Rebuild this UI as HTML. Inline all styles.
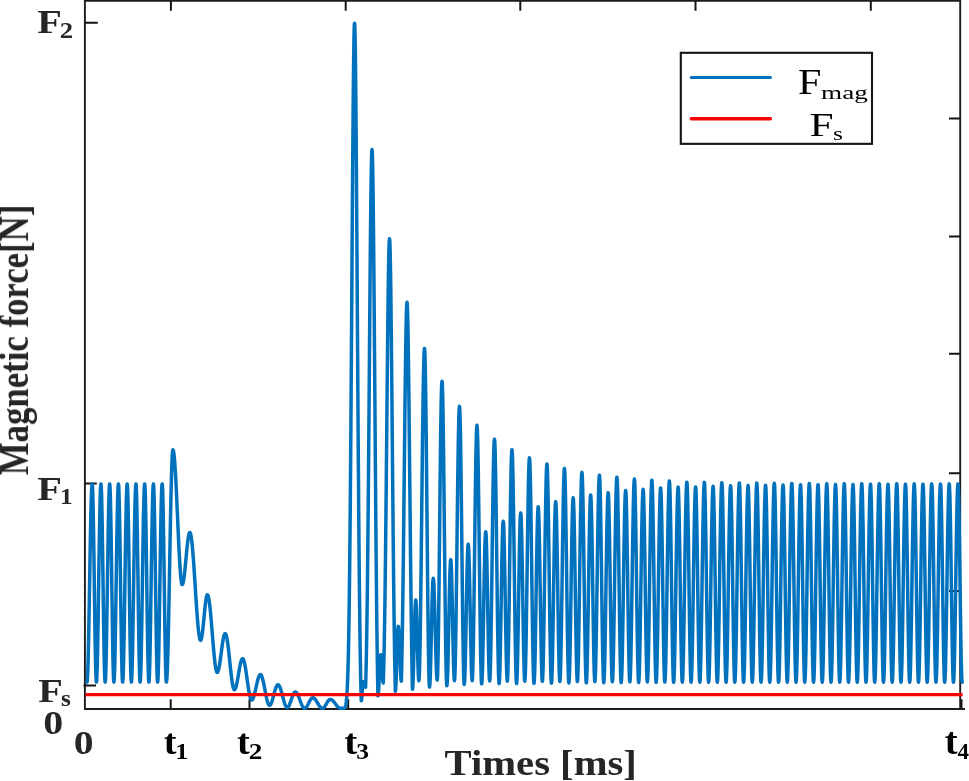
<!DOCTYPE html>
<html><head><meta charset="utf-8"><style>
html,body{margin:0;padding:0;background:#fff;}
body{width:969px;height:781px;overflow:hidden;}
svg{display:block;font-family:"Liberation Serif",serif;}
text{-webkit-font-smoothing:antialiased;}
</style></head><body>
<svg width="969" height="781" viewBox="0 0 969 781">
<rect x="0" y="0" width="969" height="781" fill="#fff"/>
<g stroke="#1c1c1c" stroke-width="1.9" fill="none" stroke-linecap="butt">
<path d="M84.9,0.9 H961 M84.9,0 V709.9 M84,709.0 H965 M960.2,0 V709.9"/>
</g>
<g stroke="#151515" stroke-width="2" fill="none">
<path d="M85,22.7 H97.8 M85,483.4 H96.8 M83.5,685.4 H96"/>
<path d="M960,118.6 H949 M960,236.6 H949 M960,353.7 H949 M960,473.3 H949 M960,591.1 H949"/>
<path d="M170.9,1 V10.8 M345.7,1 V10.8 M520.3,1 V10.8 M695.5,1 V10.8 M870.8,1 V10.8"/>
<path d="M170.7,708 V699.3 M249.5,708 V699.3 M348.2,708 V699.3 M961.5,708 V699.3"/>
</g>
<polyline points="87.00,682.10 87.20,681.38 87.40,679.22 87.60,675.66 87.80,670.75 88.00,664.57 88.20,657.19 88.40,648.73 88.60,639.32 88.80,629.08 89.00,618.17 89.20,606.75 89.40,594.99 89.60,583.05 89.80,571.11 90.00,559.35 90.20,547.93 90.40,537.02 90.60,526.78 90.80,517.37 91.00,508.91 91.20,501.53 91.40,495.35 91.60,490.44 91.80,486.88 92.00,484.72 92.20,484.00 92.40,485.11 92.60,488.40 92.80,493.81 93.00,501.21 93.20,510.44 93.40,521.29 93.60,533.52 93.80,546.86 94.00,561.01 94.20,575.65 94.40,590.45 94.60,605.09 94.80,619.24 95.00,632.58 95.20,644.81 95.40,655.66 95.60,664.89 95.80,672.29 96.00,677.70 96.20,680.99 96.40,682.10 96.61,681.09 96.81,678.09 97.02,673.15 97.23,666.38 97.43,657.91 97.64,647.91 97.85,636.60 98.05,624.20 98.26,610.96 98.47,597.15 98.67,583.05 98.88,568.95 99.09,555.14 99.29,541.90 99.50,529.50 99.71,518.19 99.91,508.19 100.12,499.72 100.33,492.95 100.53,488.01 100.74,485.01 100.95,484.00 101.15,485.11 101.35,488.40 101.55,493.81 101.75,501.21 101.95,510.44 102.15,521.29 102.35,533.52 102.55,546.86 102.75,561.01 102.95,575.65 103.15,590.45 103.35,605.09 103.55,619.24 103.75,632.58 103.95,644.81 104.15,655.66 104.35,664.89 104.55,672.29 104.75,677.70 104.95,680.99 105.15,682.10 105.35,681.09 105.56,678.09 105.76,673.15 105.97,666.38 106.18,657.91 106.38,647.91 106.59,636.60 106.80,624.20 107.00,610.96 107.21,597.15 107.42,583.05 107.62,568.95 107.83,555.14 108.04,541.90 108.24,529.50 108.45,518.19 108.66,508.19 108.86,499.72 109.07,492.95 109.28,488.01 109.48,485.01 109.69,484.00 109.89,485.11 110.09,488.40 110.29,493.81 110.49,501.21 110.69,510.44 110.89,521.29 111.09,533.52 111.29,546.86 111.49,561.01 111.69,575.65 111.89,590.45 112.09,605.09 112.29,619.24 112.49,632.58 112.69,644.81 112.89,655.66 113.09,664.89 113.29,672.29 113.49,677.70 113.69,680.99 113.89,682.10 114.10,681.09 114.30,678.09 114.51,673.15 114.72,666.38 114.92,657.91 115.13,647.91 115.34,636.60 115.54,624.20 115.75,610.96 115.96,597.15 116.16,583.05 116.37,568.95 116.58,555.14 116.78,541.90 116.99,529.50 117.20,518.19 117.40,508.19 117.61,499.72 117.82,492.95 118.02,488.01 118.23,485.01 118.44,484.00 118.64,485.11 118.84,488.40 119.03,493.81 119.23,501.21 119.44,510.44 119.64,521.29 119.84,533.52 120.03,546.86 120.23,561.01 120.44,575.65 120.64,590.45 120.84,605.09 121.04,619.24 121.23,632.58 121.44,644.81 121.64,655.66 121.84,664.89 122.04,672.29 122.23,677.70 122.44,680.99 122.64,682.10 122.84,681.09 123.05,678.09 123.25,673.15 123.46,666.38 123.67,657.91 123.87,647.91 124.08,636.60 124.29,624.20 124.49,610.96 124.70,597.15 124.91,583.05 125.11,568.95 125.32,555.14 125.53,541.90 125.73,529.50 125.94,518.19 126.15,508.19 126.35,499.72 126.56,492.95 126.77,488.01 126.97,485.01 127.18,484.00 127.39,485.22 127.60,488.85 127.81,494.80 128.02,502.92 128.23,513.01 128.44,524.83 128.65,538.08 128.86,552.44 129.07,567.56 129.28,583.05 129.49,598.54 129.70,613.66 129.91,628.02 130.12,641.27 130.33,653.09 130.54,663.18 130.75,671.30 130.96,677.25 131.17,680.88 131.38,682.10 131.59,681.09 131.79,678.09 132.00,673.15 132.21,666.38 132.41,657.91 132.62,647.91 132.83,636.60 133.03,624.20 133.24,610.96 133.45,597.15 133.65,583.05 133.86,568.95 134.07,555.14 134.27,541.90 134.48,529.50 134.69,518.19 134.89,508.19 135.10,499.72 135.31,492.95 135.51,488.01 135.72,485.01 135.93,484.00 136.14,485.22 136.34,488.85 136.56,494.80 136.77,502.92 136.98,513.01 137.19,524.83 137.40,538.08 137.61,552.44 137.81,567.56 138.03,583.05 138.24,598.54 138.44,613.66 138.66,628.02 138.87,641.27 139.07,653.09 139.28,663.18 139.50,671.30 139.71,677.25 139.91,680.88 140.12,682.10 140.33,681.09 140.54,678.09 140.74,673.15 140.95,666.38 141.16,657.91 141.36,647.91 141.57,636.60 141.78,624.20 141.98,610.96 142.19,597.15 142.40,583.05 142.60,568.95 142.81,555.14 143.02,541.90 143.22,529.50 143.43,518.19 143.64,508.19 143.84,499.72 144.05,492.95 144.26,488.01 144.46,485.01 144.67,484.00 144.88,485.22 145.09,488.85 145.30,494.80 145.51,502.92 145.72,513.01 145.93,524.83 146.14,538.08 146.35,552.44 146.56,567.56 146.77,583.05 146.98,598.54 147.19,613.66 147.40,628.02 147.61,641.27 147.82,653.09 148.03,663.18 148.24,671.30 148.45,677.25 148.66,680.88 148.87,682.10 149.08,681.09 149.28,678.09 149.49,673.15 149.70,666.38 149.90,657.91 150.11,647.91 150.32,636.60 150.52,624.20 150.73,610.96 150.94,597.15 151.14,583.05 151.35,568.95 151.56,555.14 151.76,541.90 151.97,529.50 152.18,518.19 152.38,508.19 152.59,499.72 152.80,492.95 153.00,488.01 153.21,485.01 153.41,484.00 153.62,485.22 153.83,488.85 154.04,494.80 154.25,502.92 154.46,513.01 154.67,524.83 154.88,538.08 155.09,552.44 155.30,567.56 155.51,583.05 155.72,598.54 155.93,613.66 156.14,628.02 156.35,641.27 156.56,653.09 156.77,663.18 156.98,671.30 157.19,677.25 157.40,680.88 157.61,682.10 157.82,681.09 158.03,678.09 158.23,673.15 158.44,666.38 158.65,657.91 158.85,647.91 159.06,636.60 159.27,624.20 159.47,610.96 159.68,597.15 159.89,583.05 160.09,568.95 160.30,555.14 160.51,541.90 160.71,529.50 160.92,518.19 161.13,508.19 161.33,499.72 161.54,492.95 161.75,488.01 161.95,485.01 162.16,484.00 162.37,485.22 162.58,488.85 162.79,494.80 163.00,502.92 163.21,513.01 163.42,524.83 163.63,538.08 163.84,552.44 164.05,567.56 164.26,583.05 164.47,598.54 164.68,613.66 164.89,628.02 165.10,641.27 165.31,653.09 165.52,663.18 165.73,671.30 165.94,677.25 166.15,680.88 166.36,682.10 166.56,681.54 166.77,679.87 166.97,677.10 167.18,673.26 167.38,668.39 167.59,662.53 167.79,655.75 168.00,648.10 168.20,639.65 168.40,630.50 168.61,620.73 168.81,610.43 169.02,599.70 169.22,588.65 169.43,577.38 169.63,566.00 169.83,554.62 170.04,543.35 170.24,532.30 170.45,521.57 170.65,511.27 170.86,501.50 171.06,492.35 171.26,483.90 171.47,476.25 171.67,469.47 171.88,463.61 172.08,458.74 172.29,454.90 172.49,452.13 172.70,450.46 172.90,449.90 173.10,450.06 173.30,450.53 173.51,451.31 173.71,452.40 173.91,453.79 174.11,455.48 174.32,457.45 174.52,459.70 174.72,462.23 174.92,465.01 175.12,468.03 175.33,471.28 175.53,474.75 175.73,478.41 175.93,482.26 176.13,486.26 176.34,490.42 176.54,494.70 176.74,499.08 176.94,503.55 177.15,508.08 177.35,512.65 177.55,517.25 177.75,521.85 177.95,526.42 178.16,530.95 178.36,535.42 178.56,539.80 178.76,544.08 178.97,548.24 179.17,552.24 179.37,556.09 179.57,559.75 179.77,563.22 179.98,566.47 180.18,569.49 180.38,572.27 180.58,574.80 180.78,577.05 180.99,579.02 181.19,580.71 181.39,582.10 181.59,583.19 181.80,583.97 182.00,584.44 182.20,584.60 182.40,584.51 182.60,584.24 182.80,583.80 183.00,583.19 183.20,582.41 183.40,581.46 183.60,580.36 183.80,579.11 184.00,577.72 184.20,576.19 184.40,574.55 184.60,572.80 184.80,570.95 185.00,569.01 185.20,567.01 185.40,564.94 185.60,562.84 185.80,560.70 186.00,558.55 186.20,556.40 186.40,554.26 186.60,552.16 186.80,550.09 187.00,548.09 187.20,546.15 187.40,544.30 187.60,542.55 187.80,540.91 188.00,539.38 188.20,537.99 188.40,536.74 188.60,535.64 188.80,534.69 189.00,533.91 189.20,533.30 189.40,532.86 189.60,532.59 189.80,532.50 190.00,532.59 190.21,532.88 190.41,533.35 190.62,534.01 190.82,534.85 191.02,535.88 191.23,537.08 191.43,538.45 191.63,540.00 191.84,541.70 192.04,543.57 192.25,545.58 192.45,547.74 192.65,550.03 192.86,552.46 193.06,555.00 193.26,557.65 193.47,560.40 193.67,563.25 193.88,566.17 194.08,569.17 194.28,572.23 194.49,575.34 194.69,578.48 194.89,581.66 195.10,584.85 195.30,588.05 195.51,591.24 195.71,594.42 195.91,597.56 196.12,600.67 196.32,603.73 196.52,606.73 196.73,609.65 196.93,612.50 197.14,615.25 197.34,617.90 197.54,620.44 197.75,622.87 197.95,625.16 198.15,627.32 198.36,629.33 198.56,631.20 198.77,632.90 198.97,634.45 199.17,635.82 199.38,637.02 199.58,638.05 199.78,638.89 199.99,639.55 200.19,640.02 200.40,640.31 200.60,640.40 200.80,640.30 201.00,640.01 201.20,639.53 201.40,638.86 201.60,638.01 201.80,636.98 202.00,635.79 202.20,634.45 202.40,632.96 202.60,631.34 202.80,629.60 203.00,627.76 203.20,625.84 203.40,623.84 203.60,621.79 203.80,619.70 204.00,617.60 204.20,615.50 204.40,613.41 204.60,611.36 204.80,609.36 205.00,607.44 205.20,605.60 205.40,603.86 205.60,602.24 205.80,600.75 206.00,599.41 206.20,598.22 206.40,597.19 206.60,596.34 206.80,595.67 207.00,595.19 207.20,594.90 207.40,594.80 207.60,594.88 207.81,595.13 208.01,595.55 208.22,596.12 208.42,596.86 208.62,597.75 208.83,598.80 209.03,600.00 209.24,601.34 209.44,602.82 209.65,604.43 209.85,606.16 210.05,608.02 210.26,609.98 210.46,612.04 210.67,614.20 210.87,616.44 211.07,618.75 211.28,621.13 211.48,623.56 211.69,626.03 211.89,628.54 212.10,631.06 212.30,633.60 212.50,636.14 212.71,638.66 212.91,641.17 213.12,643.64 213.32,646.07 213.53,648.45 213.73,650.76 213.93,653.00 214.14,655.16 214.34,657.22 214.55,659.18 214.75,661.04 214.95,662.77 215.16,664.38 215.36,665.86 215.57,667.20 215.77,668.40 215.97,669.45 216.18,670.34 216.38,671.08 216.59,671.65 216.79,672.07 217.00,672.32 217.20,672.40 217.40,672.34 217.60,672.16 217.80,671.86 218.00,671.45 218.20,670.92 218.40,670.29 218.60,669.54 218.80,668.69 219.00,667.75 219.20,666.72 219.40,665.60 219.60,664.40 219.80,663.14 220.00,661.81 220.20,660.42 220.40,658.99 220.60,657.53 220.80,656.03 221.00,654.52 221.20,653.00 221.40,651.48 221.60,649.97 221.80,648.47 222.00,647.01 222.20,645.58 222.40,644.19 222.60,642.86 222.80,641.60 223.00,640.40 223.20,639.28 223.40,638.25 223.60,637.31 223.80,636.46 224.00,635.71 224.20,635.08 224.40,634.55 224.60,634.14 224.80,633.84 225.00,633.66 225.20,633.60 225.40,633.67 225.60,633.86 225.80,634.19 226.00,634.64 226.20,635.22 226.40,635.92 226.60,636.74 226.80,637.68 227.00,638.73 227.20,639.89 227.40,641.15 227.60,642.50 227.80,643.95 228.00,645.47 228.20,647.08 228.40,648.75 228.60,650.47 228.80,652.26 229.00,654.08 229.20,655.94 229.40,657.83 229.60,659.74 229.80,661.65 230.00,663.56 230.20,665.47 230.40,667.36 230.60,669.22 230.80,671.04 231.00,672.83 231.20,674.55 231.40,676.22 231.60,677.83 231.80,679.35 232.00,680.80 232.20,682.15 232.40,683.41 232.60,684.57 232.80,685.62 233.00,686.56 233.20,687.38 233.40,688.08 233.60,688.66 233.80,689.11 234.00,689.44 234.20,689.63 234.40,689.70 234.61,689.65 234.81,689.51 235.02,689.27 235.22,688.94 235.43,688.52 235.63,688.01 235.84,687.42 236.04,686.74 236.25,685.99 236.45,685.16 236.66,684.27 236.86,683.31 237.06,682.30 237.27,681.24 237.47,680.13 237.68,678.99 237.88,677.82 238.09,676.62 238.29,675.42 238.50,674.20 238.71,672.98 238.91,671.78 239.12,670.58 239.32,669.41 239.53,668.27 239.73,667.16 239.94,666.10 240.14,665.09 240.34,664.13 240.55,663.24 240.75,662.41 240.96,661.66 241.16,660.98 241.37,660.39 241.57,659.88 241.78,659.46 241.98,659.13 242.19,658.89 242.39,658.75 242.60,658.70 242.80,658.75 243.00,658.90 243.21,659.15 243.41,659.50 243.61,659.95 243.81,660.49 244.02,661.12 244.22,661.85 244.42,662.65 244.62,663.54 244.82,664.51 245.03,665.55 245.23,666.66 245.43,667.82 245.63,669.05 245.84,670.33 246.04,671.65 246.24,673.00 246.44,674.39 246.64,675.81 246.85,677.24 247.05,678.68 247.25,680.12 247.45,681.56 247.66,682.99 247.86,684.41 248.06,685.80 248.26,687.15 248.46,688.47 248.67,689.75 248.87,690.98 249.07,692.14 249.27,693.25 249.48,694.29 249.68,695.26 249.88,696.15 250.08,696.95 250.28,697.68 250.49,698.31 250.69,698.85 250.89,699.30 251.09,699.65 251.30,699.90 251.50,700.05 251.70,700.10 251.90,700.07 252.10,699.96 252.31,699.79 252.51,699.56 252.71,699.26 252.91,698.89 253.12,698.47 253.32,697.98 253.52,697.44 253.72,696.85 253.93,696.20 254.13,695.51 254.33,694.77 254.53,693.99 254.73,693.18 254.94,692.34 255.14,691.47 255.34,690.57 255.54,689.67 255.75,688.74 255.95,687.82 256.15,686.88 256.35,685.96 256.56,685.03 256.76,684.13 256.96,683.23 257.16,682.36 257.37,681.52 257.57,680.71 257.77,679.93 257.97,679.19 258.17,678.50 258.38,677.85 258.58,677.26 258.78,676.72 258.98,676.23 259.19,675.81 259.39,675.44 259.59,675.14 259.79,674.91 260.00,674.74 260.20,674.63 260.40,674.60 260.60,674.64 260.80,674.75 261.01,674.94 261.21,675.19 261.41,675.53 261.61,675.93 261.82,676.40 262.02,676.93 262.22,677.53 262.42,678.19 262.62,678.91 262.83,679.68 263.03,680.50 263.23,681.37 263.43,682.27 263.64,683.22 263.84,684.20 264.04,685.21 264.24,686.24 264.44,687.28 264.65,688.35 264.85,689.41 265.05,690.49 265.25,691.55 265.46,692.62 265.66,693.66 265.86,694.69 266.06,695.70 266.26,696.68 266.47,697.62 266.67,698.53 266.87,699.40 267.07,700.22 267.28,700.99 267.48,701.71 267.68,702.37 267.88,702.97 268.08,703.50 268.29,703.97 268.49,704.37 268.69,704.71 268.89,704.96 269.10,705.15 269.30,705.26 269.50,705.30 269.70,705.27 269.90,705.19 270.11,705.04 270.31,704.84 270.51,704.59 270.71,704.28 270.92,703.93 271.12,703.52 271.32,703.06 271.52,702.56 271.73,702.02 271.93,701.44 272.13,700.82 272.33,700.17 272.54,699.50 272.74,698.79 272.94,698.07 273.14,697.33 273.35,696.58 273.55,695.82 273.75,695.05 273.95,694.28 274.15,693.52 274.36,692.77 274.56,692.03 274.76,691.31 274.96,690.60 275.17,689.92 275.37,689.28 275.57,688.66 275.77,688.08 275.98,687.54 276.18,687.04 276.38,686.58 276.58,686.17 276.79,685.82 276.99,685.51 277.19,685.26 277.39,685.06 277.60,684.91 277.80,684.83 278.00,684.80 278.20,684.83 278.41,684.91 278.61,685.05 278.82,685.24 279.02,685.48 279.23,685.78 279.43,686.13 279.64,686.52 279.84,686.97 280.04,687.46 280.25,687.99 280.45,688.56 280.66,689.16 280.86,689.80 281.07,690.47 281.27,691.17 281.48,691.90 281.68,692.64 281.88,693.40 282.09,694.18 282.29,694.96 282.50,695.75 282.70,696.55 282.91,697.34 283.11,698.12 283.32,698.90 283.52,699.66 283.72,700.40 283.93,701.13 284.13,701.82 284.34,702.50 284.54,703.14 284.75,703.74 284.95,704.31 285.16,704.84 285.36,705.33 285.56,705.78 285.77,706.17 285.97,706.52 286.18,706.82 286.38,707.06 286.59,707.25 286.79,707.39 287.00,707.47 287.20,707.50 287.40,707.48 287.61,707.40 287.81,707.29 288.01,707.12 288.21,706.91 288.41,706.66 288.62,706.36 288.82,706.02 289.02,705.64 289.23,705.23 289.43,704.78 289.63,704.31 289.83,703.80 290.03,703.27 290.24,702.72 290.44,702.14 290.64,701.56 290.85,700.96 291.05,700.36 291.25,699.75 291.45,699.14 291.65,698.54 291.86,697.94 292.06,697.36 292.26,696.78 292.47,696.23 292.67,695.70 292.87,695.19 293.07,694.72 293.27,694.27 293.48,693.86 293.68,693.48 293.88,693.14 294.09,692.84 294.29,692.59 294.49,692.38 294.69,692.21 294.89,692.10 295.10,692.02 295.30,692.00 295.50,692.02 295.70,692.08 295.91,692.17 296.11,692.30 296.31,692.47 296.51,692.67 296.72,692.91 296.92,693.19 297.12,693.49 297.32,693.83 297.52,694.19 297.73,694.59 297.93,695.01 298.13,695.45 298.33,695.92 298.53,696.40 298.74,696.90 298.94,697.42 299.14,697.95 299.34,698.49 299.55,699.04 299.75,699.59 299.95,700.15 300.15,700.71 300.35,701.26 300.56,701.81 300.76,702.35 300.96,702.88 301.16,703.40 301.37,703.90 301.57,704.38 301.77,704.85 301.97,705.29 302.17,705.71 302.38,706.11 302.58,706.47 302.78,706.81 302.98,707.11 303.18,707.39 303.39,707.63 303.59,707.83 303.79,708.00 303.99,708.13 304.20,708.22 304.40,708.28 304.60,708.30 304.81,708.28 305.01,708.24 305.22,708.15 305.42,708.04 305.62,707.90 305.83,707.73 306.04,707.53 306.24,707.30 306.44,707.04 306.65,706.76 306.86,706.46 307.06,706.14 307.27,705.79 307.47,705.43 307.68,705.06 307.88,704.67 308.09,704.28 308.29,703.87 308.50,703.46 308.70,703.05 308.91,702.64 309.11,702.23 309.31,701.82 309.52,701.43 309.73,701.04 309.93,700.67 310.13,700.31 310.34,699.96 310.55,699.64 310.75,699.34 310.96,699.06 311.16,698.80 311.37,698.57 311.57,698.37 311.78,698.20 311.98,698.06 312.19,697.95 312.39,697.86 312.60,697.82 312.80,697.80 313.00,697.81 313.21,697.85 313.41,697.91 313.62,697.99 313.82,698.09 314.03,698.22 314.23,698.36 314.43,698.53 314.64,698.72 314.84,698.93 315.05,699.16 315.25,699.40 315.46,699.66 315.66,699.94 315.86,700.23 316.07,700.53 316.27,700.84 316.48,701.16 316.68,701.49 316.89,701.83 317.09,702.18 317.29,702.52 317.50,702.87 317.70,703.23 317.91,703.58 318.11,703.92 318.31,704.27 318.52,704.61 318.72,704.94 318.93,705.26 319.13,705.57 319.34,705.87 319.54,706.16 319.74,706.44 319.95,706.70 320.15,706.94 320.36,707.17 320.56,707.38 320.77,707.57 320.97,707.74 321.17,707.88 321.38,708.01 321.58,708.11 321.79,708.19 321.99,708.25 322.20,708.29 322.40,708.30 322.60,708.29 322.81,708.24 323.01,708.17 323.21,708.07 323.41,707.94 323.62,707.79 323.82,707.61 324.02,707.41 324.22,707.18 324.43,706.93 324.63,706.66 324.83,706.38 325.03,706.07 325.24,705.76 325.44,705.43 325.64,705.09 325.84,704.74 326.05,704.39 326.25,704.03 326.45,703.67 326.65,703.31 326.86,702.96 327.06,702.61 327.26,702.27 327.46,701.94 327.67,701.62 327.87,701.32 328.07,701.04 328.27,700.77 328.48,700.52 328.68,700.29 328.88,700.09 329.08,699.91 329.29,699.76 329.49,699.63 329.69,699.53 329.89,699.46 330.10,699.41 330.30,699.40 330.50,699.41 330.71,699.44 330.91,699.48 331.12,699.54 331.32,699.62 331.52,699.71 331.73,699.82 331.93,699.95 332.14,700.09 332.34,700.25 332.54,700.42 332.75,700.61 332.95,700.80 333.16,701.01 333.36,701.23 333.56,701.47 333.77,701.71 333.97,701.96 334.18,702.21 334.38,702.47 334.58,702.74 334.79,703.02 334.99,703.29 335.20,703.57 335.40,703.85 335.60,704.13 335.81,704.41 336.01,704.68 336.22,704.96 336.42,705.23 336.62,705.49 336.83,705.74 337.03,705.99 337.24,706.23 337.44,706.47 337.64,706.69 337.85,706.90 338.05,707.09 338.26,707.28 338.46,707.45 338.66,707.61 338.87,707.75 339.07,707.88 339.28,707.99 339.48,708.08 339.68,708.16 339.89,708.22 340.09,708.26 340.30,708.29 340.50,708.30 340.71,708.30 340.91,708.30 341.12,708.30 341.32,708.30 341.53,708.30 341.74,708.30 341.94,708.30 342.15,708.30 342.35,708.30 342.56,708.30 342.76,708.30 342.97,708.30 343.18,708.30 343.38,708.30 343.59,708.30 343.79,708.30 344.00,708.30 344.20,708.16 344.41,707.98 344.61,707.74 344.81,707.44 345.01,707.06 345.22,706.57 345.42,705.97 345.62,705.21 345.83,704.26 346.03,703.10 346.23,701.67 346.43,699.93 346.64,697.81 346.84,695.27 347.04,692.22 347.25,688.59 347.45,684.29 347.65,679.24 347.85,673.35 348.06,666.50 348.26,658.60 348.46,649.54 348.67,639.23 348.87,627.57 349.07,614.46 349.27,599.84 349.48,583.62 349.68,565.78 349.88,546.27 350.09,525.10 350.29,502.31 350.49,477.94 350.70,452.10 350.90,424.91 351.10,396.54 351.30,367.21 351.51,337.14 351.71,306.63 351.91,275.97 352.12,245.50 352.32,215.58 352.52,186.57 352.72,158.86 352.93,132.82 353.13,108.83 353.33,87.22 353.54,68.34 353.74,52.46 353.94,39.84 354.14,30.67 354.35,25.11 354.55,23.25 354.75,25.19 354.96,30.99 355.16,40.56 355.36,53.73 355.57,70.30 355.77,90.01 355.97,112.55 356.17,137.58 356.38,164.75 356.58,193.66 356.78,223.91 356.99,255.12 357.19,286.90 357.39,318.87 357.60,350.69 357.80,382.03 358.00,412.61 358.20,442.18 358.41,470.51 358.61,497.44 358.81,522.83 359.02,546.58 359.22,568.62 359.42,588.93 359.63,607.52 359.83,624.39 360.03,639.62 360.23,653.25 360.44,665.38 360.64,676.11 360.84,685.52 361.05,693.73 361.25,700.85 361.45,700.38 361.66,699.03 361.86,696.91 362.07,694.25 362.27,691.30 362.48,688.35 362.68,685.69 362.89,683.57 363.09,682.22 363.29,681.75 363.50,681.86 363.71,682.19 363.92,682.70 364.13,683.36 364.34,684.11 364.55,684.89 364.76,685.64 364.97,686.30 365.18,686.81 365.39,687.14 365.59,687.25 365.80,680.46 366.00,672.70 366.20,663.89 366.40,653.94 366.60,642.78 366.80,630.36 367.00,616.61 367.21,601.51 367.41,585.04 367.61,567.20 367.81,548.02 368.01,527.55 368.21,505.88 368.41,483.11 368.62,459.39 368.82,434.89 369.02,409.82 369.22,384.40 369.42,358.88 369.62,333.56 369.82,308.71 370.03,284.64 370.23,261.66 370.43,240.09 370.63,220.22 370.83,202.34 371.03,186.72 371.23,173.59 371.44,163.16 371.64,155.58 371.84,150.99 372.04,149.45 372.24,151.11 372.45,156.06 372.65,164.22 372.85,175.46 373.06,189.60 373.26,206.42 373.46,225.65 373.67,247.00 373.87,270.17 374.07,294.82 374.28,320.61 374.48,347.21 374.68,374.28 374.89,401.51 375.09,428.61 375.30,455.29 375.50,481.31 375.70,506.46 375.91,530.55 376.11,553.44 376.31,575.00 376.52,595.17 376.72,613.87 376.92,631.10 377.13,646.86 377.33,661.16 377.53,674.05 377.74,685.59 377.94,695.85 378.14,695.33 378.35,693.81 378.55,691.37 378.75,688.11 378.96,684.22 379.16,679.87 379.36,675.30 379.57,670.73 379.77,666.38 379.97,662.49 380.18,659.23 380.38,656.79 380.58,655.27 380.78,654.75 380.99,655.23 381.20,656.65 381.41,658.89 381.62,661.82 381.83,665.24 382.03,668.90 382.24,672.56 382.45,675.97 382.66,678.91 382.87,681.15 383.08,682.57 383.28,683.05 383.49,676.56 383.69,669.19 383.89,660.87 384.09,651.54 384.29,641.15 384.49,629.66 384.70,617.03 384.90,603.25 385.10,588.33 385.30,572.28 385.50,555.16 385.70,537.03 385.90,517.98 386.11,498.13 386.31,477.63 386.51,456.65 386.71,435.38 386.91,414.03 387.11,392.83 387.31,372.04 387.52,351.89 387.72,332.67 387.92,314.61 388.12,297.98 388.32,283.02 388.52,269.94 388.72,258.95 388.93,250.22 389.13,243.88 389.33,240.04 389.53,238.75 389.73,240.09 389.93,244.09 390.13,250.68 390.33,259.77 390.53,271.21 390.73,284.83 390.93,300.42 391.13,317.75 391.33,336.59 391.53,356.66 391.73,377.70 391.93,399.44 392.13,421.62 392.33,443.98 392.53,466.29 392.73,488.32 392.93,509.86 393.13,530.75 393.33,550.83 393.53,569.97 393.73,588.07 393.93,605.06 394.13,620.89 394.33,635.53 394.53,648.97 394.73,661.23 394.93,672.33 395.13,682.32 395.33,691.25 395.54,690.44 395.75,688.04 395.96,684.17 396.17,679.03 396.38,672.88 396.59,666.02 396.80,658.80 397.01,651.58 397.22,644.72 397.43,638.57 397.64,633.43 397.85,629.56 398.06,627.16 398.27,626.35 398.48,626.95 398.69,628.72 398.89,631.58 399.10,635.42 399.31,640.05 399.51,645.28 399.72,650.89 399.93,656.61 400.13,662.22 400.34,667.45 400.55,672.08 400.75,675.92 400.96,678.78 401.17,680.55 401.38,681.15 401.58,672.79 401.78,663.48 401.98,653.18 402.18,641.86 402.38,629.51 402.58,616.13 402.79,601.74 402.99,586.38 403.19,570.11 403.39,553.02 403.59,535.21 403.79,516.81 404.00,497.97 404.20,478.87 404.40,459.70 404.60,440.67 404.80,421.99 405.00,403.90 405.21,386.63 405.41,370.41 405.61,355.47 405.81,342.03 406.01,330.28 406.21,320.40 406.42,312.56 406.62,306.86 406.82,303.41 407.02,302.25 407.23,303.54 407.44,307.39 407.64,313.73 407.85,322.45 408.06,333.42 408.27,346.44 408.47,361.31 408.68,377.81 408.89,395.66 409.10,414.62 409.30,434.42 409.51,454.78 409.72,475.45 409.93,496.17 410.14,516.73 410.34,536.90 410.55,556.50 410.76,575.37 410.97,593.37 411.17,610.40 411.38,626.37 411.59,641.23 411.80,654.95 412.00,667.51 412.21,678.94 412.42,689.25 412.63,688.39 412.84,685.86 413.05,681.73 413.26,676.19 413.47,669.43 413.67,661.72 413.88,653.35 414.09,644.65 414.30,635.95 414.51,627.58 414.72,619.87 414.93,613.11 415.14,607.57 415.35,603.44 415.56,600.91 415.76,600.05 415.97,600.93 416.18,603.54 416.38,607.76 416.59,613.40 416.80,620.22 417.00,627.93 417.21,636.18 417.42,644.62 417.62,652.87 417.83,660.57 418.04,667.40 418.25,673.04 418.45,677.26 418.66,679.87 418.87,680.75 419.07,679.71 419.27,676.58 419.47,671.43 419.67,664.30 419.87,655.28 420.07,644.50 420.28,632.09 420.48,618.19 420.68,603.00 420.88,586.69 421.08,569.48 421.28,551.57 421.49,533.20 421.69,514.60 421.89,496.00 422.09,477.63 422.29,459.72 422.49,442.51 422.70,426.20 422.90,411.01 423.10,397.11 423.30,384.70 423.50,373.92 423.70,364.90 423.91,357.77 424.11,352.62 424.31,349.49 424.51,348.45 424.71,349.78 424.91,353.77 425.11,360.34 425.31,369.39 425.51,380.78 425.71,394.34 425.91,409.83 426.11,427.03 426.31,445.67 426.51,465.43 426.71,486.03 426.91,507.12 427.11,528.38 427.31,549.47 427.51,570.07 427.71,589.83 427.91,608.47 428.11,625.67 428.31,641.16 428.51,654.72 428.71,666.11 428.91,675.16 429.11,681.73 429.31,685.72 429.51,687.05 429.72,686.22 429.93,683.77 430.13,679.77 430.34,674.33 430.55,667.64 430.76,659.88 430.97,651.29 431.17,642.14 431.38,632.70 431.59,623.26 431.80,614.11 432.01,605.52 432.21,597.76 432.42,591.07 432.63,585.63 432.84,581.63 433.05,579.18 433.25,578.35 433.46,579.04 433.67,581.11 433.88,584.48 434.09,589.07 434.29,594.76 434.50,601.39 434.71,608.77 434.92,616.72 435.13,625.00 435.33,633.40 435.54,641.68 435.75,649.63 435.96,657.01 436.17,663.64 436.37,669.33 436.58,673.92 436.79,677.29 437.00,679.36 437.20,680.05 437.41,678.66 437.62,674.51 437.83,667.68 438.04,658.30 438.25,646.54 438.46,632.62 438.66,616.81 438.87,599.38 439.08,580.68 439.29,561.05 439.50,540.85 439.71,520.45 439.92,500.25 440.12,480.62 440.33,461.92 440.54,444.49 440.75,428.68 440.96,414.76 441.17,403.00 441.37,393.62 441.58,386.79 441.79,382.64 442.00,381.25 442.20,382.55 442.40,386.44 442.61,392.84 442.81,401.64 443.01,412.70 443.21,425.83 443.41,440.80 443.62,457.35 443.82,475.21 444.02,494.06 444.22,513.58 444.42,533.45 444.63,553.32 444.83,572.84 445.03,591.69 445.23,609.55 445.44,626.10 445.64,641.07 445.84,654.20 446.04,665.26 446.24,674.06 446.45,680.46 446.65,684.35 446.85,685.65 447.05,684.79 447.26,682.24 447.46,678.06 447.67,672.38 447.87,665.33 448.08,657.13 448.28,647.99 448.49,638.15 448.69,627.90 448.90,617.50 449.10,607.25 449.31,597.41 449.51,588.27 449.72,580.07 449.92,573.02 450.13,567.34 450.33,563.16 450.54,560.61 450.74,559.75 450.95,560.67 451.16,563.40 451.36,567.86 451.57,573.90 451.77,581.36 451.98,590.00 452.18,599.56 452.39,609.74 452.59,620.25 452.80,630.76 453.01,640.94 453.21,650.50 453.42,659.14 453.62,666.60 453.83,672.64 454.03,677.10 454.24,679.83 454.44,680.75 454.65,679.67 454.85,676.44 455.05,671.12 455.25,663.78 455.45,654.55 455.66,643.56 455.86,631.00 456.06,617.07 456.26,601.97 456.46,585.95 456.66,569.26 456.87,552.16 457.07,534.94 457.27,517.84 457.47,501.15 457.67,485.13 457.88,470.03 458.08,456.10 458.28,443.54 458.48,432.55 458.68,423.32 458.88,415.98 459.09,410.66 459.29,407.43 459.49,406.35 459.70,407.65 459.90,411.51 460.11,417.86 460.32,426.59 460.52,437.54 460.73,450.49 460.94,465.21 461.14,481.43 461.35,498.83 461.56,517.11 461.76,535.91 461.97,554.89 462.17,573.69 462.38,591.97 462.59,609.37 462.79,625.59 463.00,640.31 463.21,653.26 463.41,664.21 463.62,672.94 463.83,679.29 464.03,683.15 464.24,684.45 464.45,683.49 464.66,680.65 464.87,676.00 465.08,669.67 465.29,661.83 465.50,652.69 465.71,642.51 465.92,631.56 466.13,620.14 466.34,608.56 466.55,597.14 466.76,586.19 466.97,576.01 467.18,566.87 467.39,559.03 467.60,552.70 467.81,548.05 468.02,545.21 468.23,544.25 468.44,545.18 468.65,547.95 468.86,552.48 469.07,558.64 469.27,566.28 469.48,575.17 469.69,585.08 469.90,595.75 470.11,606.86 470.31,618.14 470.52,629.25 470.73,639.92 470.94,649.83 471.15,658.72 471.35,666.36 471.56,672.52 471.77,677.05 471.98,679.82 472.18,680.75 472.39,679.56 472.60,676.01 472.81,670.17 473.02,662.15 473.23,652.10 473.44,640.20 473.64,626.67 473.85,611.77 474.06,595.78 474.27,578.99 474.48,561.72 474.69,544.28 474.90,527.01 475.10,510.22 475.31,494.23 475.52,479.33 475.73,465.80 475.94,453.90 476.15,443.85 476.35,435.83 476.56,429.99 476.77,426.44 476.98,425.25 477.18,426.45 477.39,430.04 477.59,435.95 477.80,444.07 478.00,454.25 478.21,466.30 478.41,479.99 478.61,495.06 478.82,511.25 479.02,528.24 479.23,545.73 479.43,563.37 479.64,580.86 479.84,597.85 480.05,614.04 480.25,629.11 480.45,642.80 480.66,654.85 480.86,665.03 481.07,673.15 481.27,679.06 481.48,682.65 481.68,683.85 481.88,682.91 482.08,680.13 482.29,675.56 482.49,669.33 482.69,661.58 482.89,652.50 483.10,642.33 483.30,631.30 483.50,619.70 483.70,607.80 483.90,595.90 484.11,584.30 484.31,573.27 484.51,563.10 484.71,554.02 484.92,546.27 485.12,540.04 485.32,535.47 485.52,532.69 485.72,531.75 485.93,532.77 486.14,535.79 486.35,540.74 486.56,547.48 486.76,555.82 486.97,565.55 487.18,576.38 487.39,588.04 487.60,600.19 487.80,612.51 488.01,624.66 488.22,636.32 488.43,647.15 488.64,656.88 488.84,665.22 489.05,671.96 489.26,676.91 489.47,679.93 489.67,680.95 489.88,679.82 490.09,676.47 490.30,670.94 490.51,663.36 490.72,653.84 490.93,642.59 491.13,629.79 491.34,615.70 491.55,600.57 491.76,584.69 491.97,568.35 492.18,551.85 492.39,535.51 492.59,519.63 492.80,504.50 493.01,490.41 493.22,477.61 493.43,466.36 493.64,456.84 493.84,449.26 494.05,443.73 494.26,440.38 494.47,439.25 494.67,440.39 494.87,443.78 495.08,449.37 495.28,457.04 495.48,466.66 495.68,478.04 495.89,490.98 496.09,505.23 496.29,520.53 496.49,536.59 496.69,553.11 496.90,569.79 497.10,586.31 497.30,602.37 497.50,617.67 497.70,631.92 497.91,644.86 498.11,656.24 498.31,665.86 498.51,673.53 498.72,679.12 498.92,682.51 499.12,683.65 499.32,682.65 499.53,679.68 499.73,674.80 499.94,668.14 500.14,659.87 500.35,650.18 500.55,639.31 500.76,627.54 500.96,615.15 501.17,602.45 501.37,589.75 501.58,577.36 501.78,565.59 501.99,554.72 502.19,545.03 502.40,536.76 502.60,530.10 502.81,525.22 503.01,522.25 503.21,521.25 503.42,522.23 503.62,525.16 503.83,529.96 504.03,536.52 504.24,544.67 504.44,554.21 504.65,564.90 504.85,576.49 505.06,588.69 505.26,601.20 505.47,613.71 505.68,625.91 505.88,637.50 506.08,648.19 506.29,657.73 506.50,665.88 506.70,672.44 506.90,677.24 507.11,680.17 507.31,681.15 507.52,680.07 507.72,676.86 507.92,671.57 508.12,664.31 508.32,655.20 508.53,644.42 508.73,632.17 508.93,618.68 509.13,604.20 509.33,588.99 509.54,573.35 509.74,557.55 509.94,541.91 510.14,526.70 510.34,512.22 510.55,498.73 510.75,486.48 510.95,475.70 511.15,466.59 511.35,459.33 511.56,454.04 511.76,450.83 511.96,449.75 512.17,450.94 512.38,454.49 512.59,460.31 512.80,468.31 513.01,478.30 513.21,490.10 513.42,503.45 513.63,518.09 513.84,533.72 514.05,550.01 514.26,566.65 514.47,583.29 514.68,599.58 514.89,615.21 515.10,629.85 515.31,643.20 515.51,655.00 515.72,664.99 515.93,672.99 516.14,678.81 516.35,682.36 516.56,683.55 516.77,682.50 516.97,679.38 517.18,674.26 517.39,667.27 517.60,658.58 517.80,648.41 518.01,637.00 518.22,624.64 518.43,611.64 518.63,598.30 518.84,584.96 519.05,571.96 519.25,559.60 519.46,548.19 519.67,538.02 519.88,529.33 520.08,522.34 520.29,517.22 520.50,514.10 520.70,513.05 520.91,514.09 521.11,517.17 521.32,522.22 521.52,529.11 521.73,537.68 521.93,547.72 522.14,558.97 522.34,571.16 522.55,583.99 522.75,597.15 522.96,610.31 523.16,623.14 523.37,635.33 523.57,646.58 523.78,656.62 523.98,665.19 524.19,672.08 524.39,677.13 524.60,680.21 524.80,681.25 525.01,680.21 525.21,677.11 525.41,672.00 525.61,664.99 525.81,656.20 526.02,645.79 526.22,633.97 526.42,620.94 526.62,606.96 526.82,592.28 527.03,577.17 527.23,561.93 527.43,546.82 527.63,532.14 527.83,518.16 528.04,505.13 528.24,493.31 528.44,482.90 528.64,474.11 528.84,467.10 529.05,461.99 529.25,458.89 529.45,457.85 529.66,459.00 529.86,462.42 530.07,468.04 530.28,475.75 530.48,485.39 530.69,496.76 530.90,509.64 531.10,523.76 531.31,538.83 531.52,554.55 531.72,570.60 531.93,586.65 532.14,602.37 532.35,617.44 532.55,631.56 532.76,644.44 532.97,655.81 533.17,665.45 533.38,673.16 533.59,678.78 533.79,682.20 534.00,683.35 534.21,682.26 534.42,679.03 534.63,673.73 534.84,666.49 535.05,657.49 535.26,646.95 535.47,635.14 535.68,622.34 535.89,608.86 536.10,595.05 536.31,581.24 536.52,567.76 536.73,554.96 536.94,543.15 537.15,532.61 537.36,523.61 537.57,516.37 537.78,511.07 537.99,507.84 538.19,506.75 538.40,507.82 538.61,511.02 538.82,516.27 539.02,523.42 539.23,532.32 539.44,542.74 539.65,554.42 539.85,567.07 540.06,580.39 540.27,594.05 540.48,607.71 540.68,621.03 540.89,633.68 541.10,645.36 541.31,655.78 541.51,664.68 541.72,671.83 541.93,677.08 542.14,680.28 542.34,681.35 542.55,680.24 542.76,676.95 542.97,671.53 543.18,664.10 543.39,654.81 543.60,643.85 543.81,631.44 544.02,617.83 544.22,603.31 544.43,588.16 544.64,572.70 544.85,557.24 545.06,542.09 545.27,527.57 545.48,513.96 545.69,501.55 545.90,490.59 546.10,481.30 546.31,473.87 546.52,468.45 546.73,465.16 546.94,464.05 547.14,465.17 547.35,468.49 547.55,473.95 547.76,481.44 547.96,490.81 548.17,501.86 548.37,514.37 548.58,528.09 548.78,542.74 548.99,558.01 549.19,573.60 549.39,589.19 549.60,604.46 549.80,619.11 550.01,632.83 550.21,645.34 550.42,656.39 550.62,665.76 550.83,673.25 551.03,678.71 551.24,682.03 551.44,683.15 551.64,682.14 551.84,679.12 552.05,674.17 552.25,667.39 552.45,658.94 552.65,649.00 552.85,637.80 553.06,625.59 553.26,612.63 553.46,599.23 553.66,585.67 553.87,572.27 554.07,559.31 554.27,547.10 554.47,535.90 554.67,525.96 554.88,517.51 555.08,510.73 555.28,505.78 555.48,502.76 555.68,501.75 555.88,502.75 556.08,505.74 556.28,510.65 556.48,517.36 556.68,525.74 556.88,535.58 557.08,546.67 557.28,558.77 557.49,571.61 557.68,584.89 557.88,598.31 558.08,611.59 558.28,624.43 558.49,636.52 558.68,647.62 558.88,657.46 559.09,665.84 559.28,672.55 559.49,677.46 559.68,680.45 559.88,681.45 560.09,680.37 560.30,677.14 560.50,671.83 560.71,664.54 560.92,655.44 561.12,644.69 561.33,632.53 561.54,619.19 561.74,604.95 561.95,590.11 562.16,574.95 562.36,559.79 562.57,544.95 562.78,530.71 562.98,517.37 563.19,505.21 563.40,494.46 563.60,485.36 563.81,478.07 564.02,472.76 564.22,469.53 564.43,468.45 564.63,469.54 564.83,472.79 565.04,478.14 565.24,485.48 565.44,494.65 565.64,505.47 565.85,517.72 566.05,531.15 566.25,545.48 566.45,560.44 566.65,575.70 566.86,590.96 567.06,605.92 567.26,620.25 567.46,633.68 567.67,645.93 567.87,656.75 568.07,665.92 568.27,673.26 568.48,678.61 568.68,681.86 568.88,682.95 569.08,681.92 569.29,678.84 569.49,673.78 569.70,666.86 569.90,658.23 570.11,648.09 570.31,636.65 570.52,624.18 570.72,610.96 570.93,597.27 571.13,583.43 571.33,569.74 571.54,556.52 571.74,544.05 571.95,532.61 572.15,522.47 572.36,513.84 572.56,506.92 572.77,501.86 572.97,498.78 573.17,497.75 573.38,498.78 573.57,501.83 573.77,506.85 573.97,513.72 574.17,522.28 574.38,532.35 574.57,543.70 574.77,556.08 574.98,569.20 575.17,582.78 575.38,596.52 575.57,610.10 575.77,623.22 575.98,635.60 576.17,646.95 576.38,657.02 576.58,665.58 576.77,672.45 576.98,677.47 577.17,680.52 577.38,681.55 577.58,680.49 577.79,677.31 577.99,672.10 578.20,664.95 578.41,656.00 578.61,645.45 578.82,633.50 579.03,620.40 579.23,606.42 579.44,591.84 579.65,576.95 579.85,562.06 580.06,547.48 580.27,533.50 580.47,520.40 580.68,508.45 580.89,497.90 581.09,488.95 581.30,481.80 581.51,476.59 581.71,473.41 581.92,472.35 582.13,473.53 582.34,477.03 582.55,482.77 582.76,490.64 582.97,500.45 583.18,511.98 583.39,524.98 583.60,539.15 583.81,554.18 584.02,569.73 584.22,585.47 584.43,601.02 584.64,616.05 584.85,630.23 585.06,643.22 585.27,654.75 585.48,664.56 585.69,672.43 585.90,678.17 586.11,681.67 586.32,682.85 586.53,681.80 586.73,678.68 586.94,673.55 587.15,666.53 587.35,657.77 587.56,647.48 587.77,635.88 587.98,623.22 588.18,609.81 588.39,595.92 588.60,581.88 588.80,567.99 589.01,554.58 589.22,541.92 589.42,530.32 589.63,520.03 589.84,511.27 590.04,504.25 590.25,499.12 590.46,496.00 590.66,494.95 590.87,495.99 591.06,499.10 591.26,504.19 591.46,511.17 591.66,519.87 591.87,530.10 592.06,541.62 592.26,554.20 592.47,567.53 592.66,581.32 592.87,595.28 593.06,609.07 593.26,622.40 593.47,634.97 593.66,646.50 593.87,656.73 594.07,665.43 594.26,672.41 594.47,677.50 594.66,680.61 594.87,681.65 595.07,680.60 595.28,677.47 595.48,672.32 595.69,665.26 595.90,656.43 596.10,646.01 596.31,634.22 596.52,621.29 596.72,607.49 596.93,593.09 597.14,578.40 597.34,563.71 597.55,549.31 597.76,535.51 597.96,522.58 598.17,510.79 598.38,500.37 598.58,491.54 598.79,484.48 599.00,479.33 599.20,476.20 599.41,475.15 599.62,476.31 599.82,479.76 600.03,485.43 600.24,493.19 600.45,502.86 600.65,514.23 600.86,527.05 601.07,541.03 601.27,555.85 601.48,571.19 601.69,586.71 601.90,602.05 602.10,616.87 602.31,630.85 602.52,643.67 602.72,655.04 602.93,664.71 603.14,672.47 603.35,678.14 603.55,681.59 603.76,682.75 603.97,681.69 604.18,678.53 604.39,673.34 604.60,666.24 604.81,657.39 605.02,646.98 605.23,635.25 605.43,622.46 605.64,608.89 605.85,594.85 606.06,580.65 606.27,566.61 606.48,553.04 606.69,540.25 606.90,528.52 607.11,518.11 607.32,509.26 607.53,502.16 607.74,496.97 607.95,493.81 608.15,492.75 608.36,493.81 608.55,496.95 608.75,502.11 608.95,509.17 609.15,517.98 609.36,528.33 609.55,540.00 609.75,552.73 609.96,566.22 610.15,580.19 610.36,594.31 610.55,608.28 610.75,621.77 610.96,634.50 611.15,646.17 611.36,656.52 611.56,665.33 611.75,672.39 611.96,677.55 612.15,680.69 612.36,681.75 612.56,680.71 612.77,677.61 612.97,672.51 613.18,665.51 613.39,656.76 613.59,646.44 613.80,634.76 614.01,621.95 614.21,608.27 614.42,594.01 614.63,579.45 614.83,564.89 615.04,550.63 615.25,536.95 615.45,524.14 615.66,512.46 615.87,502.14 616.07,493.39 616.28,486.39 616.49,481.29 616.69,478.19 616.90,477.15 617.10,478.30 617.31,481.71 617.51,487.33 617.72,495.00 617.92,504.58 618.13,515.84 618.33,528.52 618.54,542.36 618.74,557.04 618.95,572.22 619.15,587.58 619.36,602.76 619.56,617.44 619.77,631.27 619.97,643.96 620.18,655.22 620.38,664.80 620.59,672.47 620.79,678.09 621.00,681.50 621.20,682.65 621.40,681.67 621.60,678.76 621.81,673.97 622.01,667.39 622.21,659.18 622.41,649.48 622.61,638.51 622.82,626.47 623.02,613.62 623.22,600.23 623.42,586.55 623.62,572.87 623.83,559.48 624.03,546.63 624.23,534.59 624.43,523.62 624.63,513.92 624.84,505.71 625.04,499.13 625.24,494.34 625.44,491.43 625.64,490.45 625.85,491.52 626.04,494.70 626.25,499.93 626.44,507.08 626.64,516.00 626.85,526.48 627.04,538.30 627.25,551.19 627.45,564.85 627.64,579.00 627.85,593.30 628.04,607.45 628.25,621.11 628.45,634.00 628.64,645.82 628.85,656.30 629.05,665.22 629.25,672.37 629.45,677.60 629.64,680.78 629.85,681.85 630.05,680.82 630.26,677.74 630.46,672.69 630.67,665.75 630.88,657.08 631.08,646.85 631.29,635.27 631.50,622.57 631.70,609.02 631.91,594.88 632.12,580.45 632.32,566.02 632.53,551.88 632.74,538.33 632.94,525.63 633.15,514.05 633.36,503.82 633.56,495.15 633.77,488.21 633.98,483.16 634.18,480.08 634.39,479.05 634.59,480.19 634.79,483.57 635.00,489.13 635.20,496.73 635.40,506.21 635.60,517.36 635.81,529.92 636.01,543.63 636.21,558.16 636.41,573.20 636.62,588.40 636.82,603.44 637.02,617.97 637.22,631.67 637.43,644.24 637.63,655.39 637.83,664.87 638.03,672.47 638.24,678.03 638.44,681.41 638.64,682.55 638.84,681.57 639.05,678.64 639.25,673.82 639.46,667.22 639.66,658.96 639.87,649.21 640.07,638.18 640.27,626.08 640.48,613.17 640.68,599.70 640.89,585.95 641.09,572.20 641.30,558.73 641.50,545.82 641.70,533.72 641.91,522.69 642.11,512.94 642.32,504.68 642.52,498.08 642.73,493.26 642.93,490.33 643.13,489.35 643.34,490.43 643.53,493.63 643.74,498.89 643.93,506.08 644.13,515.06 644.34,525.61 644.53,537.50 644.74,550.47 644.94,564.22 645.13,578.45 645.34,592.85 645.53,607.08 645.74,620.83 645.94,633.80 646.13,645.69 646.34,656.24 646.54,665.22 646.74,672.41 646.94,677.67 647.13,680.87 647.34,681.95 647.54,680.92 647.75,677.86 647.95,672.83 648.16,665.93 648.37,657.31 648.57,647.13 648.78,635.60 648.99,622.97 649.19,609.48 649.40,595.41 649.61,581.05 649.81,566.69 650.02,552.62 650.23,539.13 650.43,526.50 650.64,514.97 650.85,504.79 651.05,496.17 651.26,489.27 651.47,484.24 651.67,481.18 651.88,480.15 652.08,481.28 652.28,484.64 652.49,490.17 652.69,497.73 652.89,507.15 653.09,518.23 653.30,530.73 653.50,544.35 653.70,558.79 653.90,573.74 654.11,588.86 654.31,603.81 654.51,618.25 654.71,631.88 654.92,644.37 655.12,655.45 655.32,664.87 655.52,672.43 655.73,677.96 655.93,681.32 656.13,682.45 656.33,681.46 656.54,678.51 656.74,673.66 656.95,667.01 657.15,658.70 657.36,648.89 657.56,637.78 657.76,625.60 657.97,612.60 658.17,599.04 658.38,585.20 658.58,571.36 658.79,557.80 658.99,544.80 659.19,532.62 659.40,521.51 659.60,511.70 659.81,503.39 660.01,496.74 660.22,491.89 660.42,488.94 660.62,487.95 660.83,489.03 661.02,492.26 661.23,497.56 661.42,504.81 661.62,513.86 661.83,524.49 662.02,536.47 662.23,549.54 662.43,563.40 662.62,577.75 662.83,592.25 663.02,606.60 663.23,620.46 663.43,633.52 663.62,645.51 663.83,656.14 664.03,665.19 664.23,672.44 664.43,677.74 664.62,680.97 664.83,682.05 665.03,681.03 665.24,677.98 665.44,672.97 665.65,666.10 665.86,657.50 666.06,647.36 666.27,635.88 666.48,623.30 666.68,609.86 666.89,595.85 667.10,581.55 667.30,567.25 667.51,553.24 667.72,539.80 667.92,527.22 668.13,515.74 668.34,505.60 668.54,497.00 668.75,490.13 668.96,485.12 669.16,482.07 669.37,481.05 669.57,482.17 669.77,485.52 669.98,491.02 670.18,498.54 670.38,507.92 670.58,518.95 670.79,531.38 670.99,544.93 671.19,559.30 671.39,574.18 671.60,589.22 671.80,604.10 672.00,618.47 672.20,632.02 672.41,644.45 672.61,655.48 672.81,664.86 673.01,672.38 673.22,677.88 673.42,681.23 673.62,682.35 673.82,681.36 674.03,678.40 674.23,673.53 674.44,666.86 674.64,658.51 674.85,648.66 675.05,637.52 675.25,625.29 675.46,612.25 675.66,598.64 675.87,584.75 676.07,570.86 676.28,557.25 676.48,544.21 676.68,531.98 676.89,520.84 677.09,510.99 677.30,502.64 677.50,495.97 677.71,491.10 677.91,488.14 678.12,487.15 678.32,488.24 678.51,491.48 678.72,496.81 678.91,504.09 679.12,513.18 679.32,523.86 679.51,535.90 679.72,549.03 679.92,562.95 680.12,577.36 680.32,591.94 680.51,606.35 680.72,620.27 680.92,633.40 681.12,645.44 681.32,656.12 681.52,665.21 681.72,672.49 681.92,677.82 682.12,681.06 682.32,682.15 682.52,681.13 682.73,678.10 682.93,673.11 683.14,666.28 683.35,657.72 683.55,647.64 683.76,636.21 683.97,623.69 684.17,610.32 684.38,596.38 684.59,582.15 684.79,567.92 685.00,553.98 685.21,540.61 685.41,528.09 685.62,516.66 685.83,506.58 686.03,498.02 686.24,491.19 686.45,486.20 686.65,483.17 686.86,482.15 687.06,483.27 687.26,486.59 687.47,492.06 687.67,499.53 687.87,508.86 688.07,519.82 688.28,532.17 688.48,545.65 688.68,559.94 688.88,574.72 689.09,589.68 689.29,604.46 689.49,618.75 689.69,632.22 689.90,644.58 690.10,655.54 690.30,664.87 690.50,672.34 690.71,677.81 690.91,681.13 691.11,682.25 691.31,681.26 691.52,678.30 691.72,673.43 691.93,666.76 692.13,658.41 692.34,648.56 692.54,637.42 692.74,625.19 692.95,612.15 693.15,598.54 693.36,584.65 693.56,570.76 693.77,557.15 693.97,544.11 694.17,531.88 694.38,520.74 694.58,510.89 694.79,502.54 694.99,495.87 695.20,491.00 695.40,488.04 695.61,487.05 695.81,488.14 696.00,491.39 696.21,496.72 696.40,504.01 696.61,513.10 696.81,523.80 697.00,535.85 697.21,548.99 697.41,562.93 697.61,577.36 697.81,591.94 698.00,606.37 698.21,620.31 698.41,633.45 698.61,645.50 698.81,656.20 699.01,665.29 699.21,672.58 699.41,677.91 699.61,681.16 699.81,682.25 700.01,681.23 700.22,678.20 700.42,673.22 700.63,666.38 700.84,657.84 701.04,647.75 701.25,636.34 701.46,623.82 701.66,610.46 701.87,596.52 702.08,582.30 702.28,568.08 702.49,554.14 702.70,540.78 702.90,528.26 703.11,516.85 703.32,506.76 703.52,498.22 703.73,491.38 703.94,486.40 704.14,483.37 704.35,482.35 704.55,483.47 704.75,486.79 704.96,492.25 705.16,499.72 705.36,509.03 705.56,519.98 705.77,532.32 705.97,545.78 706.17,560.06 706.37,574.83 706.58,589.77 706.78,604.54 706.98,618.82 707.18,632.27 707.39,644.62 707.59,655.57 707.79,664.88 707.99,672.35 708.20,677.81 708.40,681.13 708.60,682.25 708.80,681.25 709.01,678.28 709.21,673.39 709.42,666.69 709.62,658.31 709.83,648.43 710.03,637.23 710.23,624.96 710.44,611.86 710.64,598.20 710.85,584.25 711.05,570.30 711.26,556.64 711.46,543.54 711.66,531.26 711.87,520.07 712.07,510.18 712.28,501.80 712.48,495.10 712.69,490.22 712.89,487.24 713.10,486.25 713.30,487.34 713.50,490.60 713.70,495.95 713.89,503.27 714.10,512.41 714.30,523.14 714.50,535.25 714.70,548.44 714.90,562.44 715.10,576.92 715.30,591.57 715.50,606.06 715.70,620.05 715.90,633.25 716.10,645.35 716.30,656.09 716.50,665.22 716.70,672.54 716.90,677.90 717.10,681.16 717.30,682.25 717.50,681.23 717.71,678.21 717.91,673.23 718.12,666.41 718.33,657.88 718.53,647.81 718.74,636.41 718.95,623.91 719.15,610.57 719.36,596.66 719.57,582.46 719.77,568.26 719.98,554.35 720.19,541.01 720.39,528.51 720.60,517.11 720.81,507.04 721.01,498.51 721.22,491.69 721.43,486.71 721.63,483.69 721.84,482.67 722.04,483.78 722.24,487.10 722.45,492.55 722.65,500.01 722.85,509.31 723.05,520.24 723.26,532.57 723.46,546.00 723.66,560.25 723.86,575.00 724.07,589.92 724.27,604.67 724.47,618.92 724.67,632.36 724.88,644.68 725.08,655.61 725.28,664.91 725.48,672.37 725.69,677.82 725.89,681.14 726.09,682.25 726.29,681.25 726.50,678.27 726.70,673.38 726.91,666.66 727.11,658.26 727.32,648.35 727.52,637.14 727.72,624.84 727.93,611.71 728.13,598.02 728.34,584.04 728.54,570.06 728.75,556.37 728.95,543.24 729.15,530.95 729.36,519.73 729.56,509.82 729.77,501.42 729.97,494.71 730.18,489.81 730.38,486.83 730.59,485.83 730.79,486.93 730.99,490.20 731.19,495.56 731.38,502.90 731.59,512.05 731.79,522.81 731.99,534.94 732.19,548.16 732.39,562.19 732.59,576.70 732.79,591.38 732.99,605.89 733.19,619.92 733.39,633.15 733.59,645.27 733.79,656.03 733.99,665.19 734.19,672.52 734.39,677.89 734.59,681.15 734.79,682.25 734.99,681.24 735.20,678.21 735.40,673.24 735.61,666.43 735.82,657.91 736.02,647.85 736.23,636.47 736.44,623.99 736.64,610.67 736.85,596.77 737.06,582.59 737.26,568.40 737.47,554.51 737.68,541.19 737.88,528.71 738.09,517.32 738.30,507.27 738.50,498.75 738.71,491.93 738.92,486.96 739.12,483.94 739.33,482.93 739.53,484.04 739.73,487.35 739.94,492.80 740.14,500.24 740.34,509.53 740.54,520.45 740.75,532.76 740.95,546.18 741.15,560.41 741.35,575.14 741.56,590.04 741.76,604.76 741.96,619.00 742.16,632.42 742.37,644.73 742.57,655.65 742.77,664.93 742.97,672.38 743.18,677.82 743.38,681.14 743.58,682.25 743.78,681.25 743.99,678.26 744.19,673.36 744.40,666.63 744.60,658.22 744.81,648.30 745.01,637.06 745.21,624.74 745.42,611.59 745.62,597.87 745.83,583.87 746.03,569.87 746.24,556.16 746.44,543.00 746.64,530.68 746.85,519.45 747.05,509.52 747.26,501.11 747.46,494.38 747.67,489.48 747.87,486.50 748.08,485.49 748.28,486.59 748.48,489.86 748.68,495.24 748.88,502.59 749.08,511.76 749.28,522.53 749.48,534.68 749.68,547.93 749.88,561.98 750.08,576.52 750.28,591.22 750.48,605.76 750.68,619.81 750.88,633.06 751.08,645.21 751.28,655.99 751.48,665.16 751.68,672.51 751.88,677.88 752.08,681.15 752.28,682.25 752.48,681.24 752.69,678.22 752.89,673.25 753.10,666.45 753.31,657.93 753.51,647.89 753.72,636.52 753.93,624.05 754.13,610.74 754.34,596.86 754.55,582.69 754.75,568.52 754.96,554.64 755.17,541.33 755.37,528.86 755.58,517.49 755.79,507.45 755.99,498.94 756.20,492.13 756.41,487.16 756.61,484.14 756.82,483.13 757.02,484.24 757.22,487.55 757.43,492.99 757.63,500.43 757.83,509.71 758.03,520.62 758.24,532.91 758.44,546.32 758.64,560.54 758.84,575.25 759.05,590.13 759.25,604.84 759.45,619.06 759.65,632.47 759.86,644.76 760.06,655.67 760.26,664.95 760.46,672.39 760.67,677.83 760.87,681.14 761.07,682.25 761.27,681.25 761.48,678.26 761.68,673.35 761.89,666.61 762.09,658.19 762.30,648.25 762.50,637.00 762.70,624.66 762.91,611.49 763.11,597.75 763.32,583.73 763.52,569.71 763.73,555.98 763.93,542.81 764.13,530.47 764.34,519.22 764.54,509.28 764.75,500.86 764.95,494.12 765.16,489.21 765.36,486.22 765.56,485.22 765.76,486.32 765.96,489.59 766.16,494.97 766.36,502.33 766.56,511.51 766.76,522.31 766.96,534.47 767.16,547.74 767.37,561.81 767.56,576.37 767.76,591.10 767.96,605.66 768.16,619.73 768.37,632.99 768.56,645.16 768.76,655.95 768.97,665.13 769.16,672.49 769.37,677.87 769.56,681.15 769.76,682.25 769.97,681.24 770.18,678.22 770.38,673.26 770.59,666.46 770.80,657.95 771.00,647.92 771.21,636.55 771.42,624.10 771.62,610.80 771.83,596.93 772.04,582.77 772.24,568.62 772.45,554.75 772.66,541.45 772.86,528.99 773.07,517.63 773.28,507.59 773.48,499.09 773.69,492.28 773.90,487.32 774.10,484.31 774.31,483.29 774.51,484.41 774.71,487.71 774.92,493.15 775.12,500.58 775.32,509.85 775.52,520.75 775.73,533.03 775.93,546.43 776.13,560.64 776.33,575.34 776.54,590.21 776.74,604.91 776.94,619.12 777.14,632.51 777.35,644.80 777.55,655.69 777.75,664.96 777.95,672.40 778.16,677.83 778.36,681.14 778.56,682.25 778.76,681.25 778.97,678.25 779.17,673.34 779.38,666.59 779.58,658.16 779.79,648.21 779.99,636.94 780.19,624.59 780.40,611.41 780.60,597.66 780.81,583.62 781.01,569.58 781.22,555.83 781.42,542.65 781.62,530.30 781.83,519.03 782.03,509.08 782.24,500.65 782.44,493.90 782.65,488.98 782.85,485.99 783.05,484.99 783.25,486.09 783.45,489.37 783.65,494.76 783.85,502.13 784.05,511.32 784.25,522.12 784.45,534.30 784.65,547.59 784.86,561.67 785.05,576.25 785.25,590.99 785.45,605.57 785.65,619.65 785.86,632.93 786.05,645.11 786.25,655.92 786.46,665.11 786.65,672.48 786.86,677.87 787.05,681.15 787.25,682.25 787.46,681.24 787.67,678.22 787.87,673.27 788.08,666.47 788.29,657.97 788.49,647.94 788.70,636.58 788.91,624.14 789.11,610.85 789.32,596.99 789.53,582.84 789.73,568.69 789.94,554.83 790.15,541.54 790.35,529.09 790.56,517.74 790.77,507.71 790.97,499.21 791.18,492.41 791.39,487.45 791.59,484.44 791.80,483.43 792.00,484.54 792.20,487.84 792.41,493.27 792.61,500.70 792.81,509.96 793.01,520.86 793.22,533.13 793.42,546.52 793.62,560.72 793.82,575.41 794.03,590.27 794.23,604.96 794.43,619.16 794.63,632.54 794.84,644.82 795.04,655.71 795.24,664.98 795.44,672.41 795.65,677.83 795.85,681.14 796.05,682.25 796.25,681.25 796.46,678.25 796.66,673.33 796.87,666.58 797.07,658.14 797.28,648.18 797.48,636.90 797.68,624.54 797.89,611.34 798.09,597.58 798.30,583.53 798.50,569.48 798.71,555.71 798.91,542.51 799.11,530.15 799.32,518.87 799.52,508.91 799.73,500.47 799.93,493.72 800.14,488.80 800.34,485.81 800.54,484.80 800.75,485.90 800.94,489.19 801.14,494.58 801.34,501.96 801.54,511.16 801.75,521.97 801.94,534.16 802.14,547.46 802.35,561.56 802.54,576.15 802.75,590.90 802.94,605.49 803.14,619.59 803.35,632.89 803.54,645.08 803.75,655.90 803.95,665.10 804.14,672.47 804.35,677.86 804.54,681.15 804.75,682.25 804.95,681.24 805.16,678.23 805.36,673.27 805.57,666.48 805.78,657.98 805.98,647.96 806.19,636.61 806.40,624.17 806.60,610.88 806.81,597.03 807.02,582.89 807.22,568.75 807.43,554.90 807.64,541.61 807.84,529.17 808.05,517.82 808.26,507.80 808.46,499.30 808.67,492.51 808.88,487.56 809.08,484.54 809.29,483.53 809.49,484.64 809.69,487.94 809.90,493.37 810.10,500.80 810.30,510.05 810.50,520.94 810.71,533.21 810.91,546.59 811.11,560.78 811.31,575.47 811.52,590.32 811.72,605.00 811.92,619.19 812.12,632.57 812.33,644.84 812.53,655.73 812.73,664.99 812.93,672.41 813.14,677.84 813.34,681.14 813.54,682.25 813.74,681.24 813.95,678.25 814.15,673.32 814.36,666.57 814.56,658.12 814.77,648.15 814.97,636.86 815.17,624.49 815.38,611.28 815.58,597.51 815.79,583.45 815.99,569.39 816.20,555.61 816.40,542.41 816.60,530.03 816.81,518.75 817.01,508.78 817.22,500.33 817.42,493.58 817.63,488.65 817.83,485.65 818.03,484.65 818.24,485.75 818.43,489.04 818.63,494.43 818.83,501.82 819.03,511.02 819.24,521.85 819.43,534.05 819.63,547.35 819.84,561.46 820.03,576.07 820.24,590.83 820.43,605.43 820.63,619.55 820.84,632.85 821.03,645.05 821.24,655.88 821.44,665.08 821.63,672.47 821.84,677.86 822.03,681.15 822.24,682.25 822.44,681.24 822.65,678.23 822.85,673.27 823.06,666.48 823.27,657.99 823.47,647.97 823.68,636.63 823.89,624.19 824.09,610.91 824.30,597.07 824.51,582.93 824.71,568.80 824.92,554.95 825.13,541.67 825.33,529.24 825.54,517.89 825.75,507.87 825.95,499.38 826.16,492.59 826.37,487.64 826.57,484.63 826.78,483.61 826.98,484.72 827.18,488.03 827.39,493.45 827.59,500.87 827.79,510.13 827.99,521.01 828.20,533.27 828.40,546.65 828.60,560.83 828.80,575.51 829.01,590.35 829.21,605.03 829.41,619.22 829.61,632.59 829.82,644.86 830.02,655.74 830.22,664.99 830.42,672.41 830.63,677.84 830.83,681.14 831.03,682.25 831.23,681.24 831.44,678.25 831.64,673.32 831.85,666.56 832.05,658.10 832.26,648.13 832.46,636.84 832.66,624.46 832.87,611.24 833.07,597.46 833.28,583.39 833.48,569.32 833.69,555.53 833.89,542.32 834.09,529.94 834.30,518.64 834.50,508.67 834.71,500.22 834.91,493.46 835.12,488.53 835.32,485.53 835.52,484.52 835.73,485.63 835.92,488.91 836.12,494.31 836.32,501.70 836.52,510.91 836.73,521.75 836.92,533.95 837.12,547.27 837.33,561.39 837.52,576.00 837.73,590.77 837.92,605.39 838.12,619.51 838.33,632.82 838.52,645.03 838.73,655.86 838.93,665.07 839.12,672.46 839.33,677.86 839.52,681.15 839.73,682.25 839.93,681.24 840.14,678.23 840.34,673.28 840.55,666.49 840.76,658.00 840.96,647.98 841.17,636.64 841.38,624.21 841.58,610.94 841.79,597.10 842.00,582.97 842.20,568.84 842.41,554.99 842.62,541.72 842.82,529.29 843.03,517.95 843.24,507.93 843.44,499.44 843.65,492.65 843.86,487.70 844.06,484.69 844.27,483.68 844.47,484.79 844.67,488.09 844.88,493.51 845.08,500.93 845.28,510.19 845.48,521.06 845.69,533.32 845.89,546.69 846.09,560.87 846.29,575.55 846.50,590.39 846.70,605.06 846.90,619.24 847.10,632.61 847.31,644.87 847.51,655.75 847.71,665.00 847.91,672.42 848.12,677.84 848.32,681.14 848.52,682.25 848.72,681.24 848.93,678.24 849.13,673.31 849.34,666.55 849.54,658.09 849.75,648.11 849.95,636.81 850.15,624.43 850.36,611.20 850.56,597.41 850.77,583.33 850.97,569.26 851.18,555.47 851.38,542.24 851.58,529.86 851.79,518.56 851.99,508.58 852.20,500.12 852.40,493.36 852.61,488.43 852.81,485.43 853.01,484.42 853.22,485.52 853.41,488.81 853.62,494.22 853.81,501.61 854.01,510.82 854.22,521.66 854.41,533.88 854.62,547.20 854.82,561.32 855.01,575.94 855.22,590.73 855.41,605.35 855.62,619.47 855.82,632.79 856.01,645.01 856.22,655.84 856.42,665.06 856.62,672.45 856.82,677.86 857.01,681.15 857.22,682.25 857.42,681.24 857.63,678.23 857.83,673.28 858.04,666.49 858.25,658.01 858.45,647.99 858.66,636.66 858.87,624.23 859.07,610.96 859.28,597.12 859.49,582.99 859.69,568.87 859.90,555.03 860.11,541.76 860.31,529.33 860.52,517.99 860.73,507.98 860.93,499.49 861.14,492.70 861.35,487.76 861.55,484.75 861.76,483.74 861.96,484.84 862.16,488.14 862.37,493.56 862.57,500.98 862.77,510.23 862.97,521.11 863.18,533.36 863.38,546.73 863.58,560.91 863.78,575.58 863.99,590.41 864.19,605.08 864.39,619.26 864.59,632.62 864.80,644.88 865.00,655.75 865.20,665.00 865.40,672.42 865.61,677.84 865.81,681.14 866.01,682.25 866.21,681.24 866.42,678.24 866.62,673.31 866.83,666.54 867.03,658.08 867.24,648.10 867.44,636.79 867.64,624.40 867.85,611.17 868.05,597.38 868.26,583.29 868.46,569.21 868.67,555.41 868.87,542.18 869.07,529.79 869.28,518.49 869.48,508.51 869.69,500.04 869.89,493.28 870.10,488.34 870.30,485.34 870.50,484.33 870.71,485.44 870.90,488.73 871.11,494.13 871.30,501.53 871.50,510.75 871.71,521.59 871.90,533.81 872.11,547.14 872.31,561.27 872.50,575.90 872.71,590.69 872.90,605.31 873.11,619.45 873.31,632.77 873.50,644.99 873.71,655.83 873.91,665.06 874.11,672.45 874.31,677.85 874.50,681.14 874.71,682.25 874.91,681.24 875.12,678.23 875.32,673.28 875.53,666.50 875.74,658.01 875.94,648.00 876.15,636.67 876.36,624.24 876.56,610.97 876.77,597.14 876.98,583.01 877.18,568.89 877.39,555.06 877.60,541.79 877.80,529.36 878.01,518.03 878.22,508.02 878.42,499.53 878.63,492.75 878.84,487.80 879.04,484.79 879.25,483.78 879.45,484.89 879.65,488.19 879.86,493.61 880.06,501.02 880.26,510.27 880.46,521.14 880.67,533.40 880.87,546.76 881.07,560.93 881.27,575.60 881.48,590.43 881.68,605.10 881.88,619.27 882.08,632.63 882.29,644.89 882.49,655.76 882.69,665.01 882.89,672.42 883.10,677.84 883.30,681.14 883.50,682.25 883.70,681.24 883.91,678.24 884.11,673.30 884.32,666.54 884.52,658.07 884.73,648.08 884.93,636.78 885.13,624.38 885.34,611.15 885.54,597.35 885.75,583.26 885.95,569.17 886.16,555.37 886.36,542.13 886.56,529.74 886.77,518.43 886.97,508.44 887.18,499.98 887.38,493.21 887.59,488.28 887.79,485.27 888.00,484.27 888.20,485.37 888.39,488.66 888.60,494.07 888.79,501.47 889.00,510.69 889.20,521.54 889.39,533.76 889.60,547.09 889.80,561.23 890.00,575.86 890.20,590.66 890.39,605.29 890.60,619.42 890.80,632.75 891.00,644.98 891.20,655.82 891.40,665.05 891.60,672.45 891.80,677.85 892.00,681.14 892.20,682.25 892.40,681.24 892.61,678.23 892.81,673.28 893.02,666.50 893.23,658.02 893.43,648.01 893.64,636.67 893.85,624.25 894.05,610.98 894.26,597.15 894.47,583.03 894.67,568.91 894.88,555.08 895.09,541.81 895.29,529.39 895.50,518.06 895.71,508.05 895.91,499.56 896.12,492.78 896.33,487.83 896.53,484.82 896.74,483.81 896.94,484.92 897.14,488.22 897.35,493.64 897.55,501.05 897.75,510.30 897.95,521.17 898.16,533.42 898.36,546.78 898.56,560.95 898.76,575.62 898.97,590.45 899.17,605.11 899.37,619.28 899.57,632.64 899.78,644.89 899.98,655.76 900.18,665.01 900.38,672.42 900.59,677.84 900.79,681.14 900.99,682.25 901.19,681.24 901.40,678.24 901.60,673.30 901.81,666.53 902.01,658.06 902.22,648.07 902.42,636.76 902.62,624.36 902.83,611.13 903.03,597.32 903.24,583.23 903.44,569.14 903.65,555.33 903.85,542.09 904.05,529.69 904.26,518.38 904.46,508.39 904.67,499.93 904.87,493.16 905.08,488.22 905.28,485.22 905.49,484.21 905.69,485.31 905.88,488.61 906.09,494.01 906.28,501.41 906.49,510.64 906.69,521.49 906.88,533.72 907.09,547.05 907.29,561.20 907.49,575.83 907.69,590.63 907.88,605.26 908.09,619.41 908.29,632.74 908.49,644.97 908.69,655.82 908.89,665.04 909.09,672.44 909.29,677.85 909.49,681.14 909.69,682.25 909.89,681.24 910.10,678.23 910.30,673.29 910.51,666.50 910.72,658.02 910.92,648.01 911.13,636.68 911.34,624.26 911.54,610.99 911.75,597.16 911.96,583.05 912.16,568.93 912.37,555.10 912.58,541.83 912.78,529.41 912.99,518.08 913.20,508.07 913.40,499.59 913.61,492.81 913.82,487.86 914.02,484.85 914.23,483.84 914.43,484.95 914.63,488.25 914.84,493.66 915.04,501.08 915.24,510.32 915.44,521.19 915.65,533.44 915.85,546.80 916.05,560.97 916.25,575.63 916.46,590.46 916.66,605.12 916.86,619.29 917.06,632.65 917.27,644.90 917.47,655.77 917.67,665.01 917.87,672.43 918.08,677.84 918.28,681.14 918.48,682.25 918.68,681.24 918.89,678.24 919.09,673.30 919.30,666.53 919.50,658.06 919.71,648.07 919.91,636.75 920.11,624.35 920.32,611.11 920.52,597.30 920.73,583.21 920.93,569.11 921.14,555.30 921.34,542.06 921.54,529.66 921.75,518.35 921.95,508.35 922.16,499.89 922.36,493.11 922.57,488.17 922.77,485.17 922.98,484.16 923.18,485.27 923.38,488.56 923.58,493.97 923.77,501.37 923.98,510.60 924.18,521.45 924.38,533.68 924.58,547.02 924.78,561.17 924.98,575.80 925.18,590.61 925.38,605.25 925.58,619.39 925.78,632.73 925.98,644.96 926.18,655.81 926.38,665.04 926.58,672.44 926.78,677.85 926.98,681.14 927.18,682.25 927.38,681.24 927.59,678.23 927.79,673.29 928.00,666.50 928.21,658.02 928.41,648.01 928.62,636.68 928.83,624.26 929.03,611.00 929.24,597.17 929.45,583.06 929.65,568.94 929.86,555.11 930.07,541.85 930.27,529.43 930.48,518.10 930.69,508.09 930.89,499.61 931.10,492.83 931.31,487.88 931.51,484.87 931.72,483.86 931.92,484.97 932.12,488.27 932.33,493.69 932.53,501.10 932.73,510.34 932.93,521.21 933.14,533.46 933.34,546.82 933.54,560.98 933.74,575.64 933.95,590.47 934.15,605.13 934.35,619.30 934.55,632.65 934.76,644.90 934.96,655.77 935.16,665.01 935.36,672.43 935.57,677.84 935.77,681.14 935.97,682.25 936.17,681.24 936.38,678.24 936.58,673.30 936.79,666.52 936.99,658.05 937.20,648.06 937.40,636.74 937.60,624.34 937.81,611.10 938.01,597.29 938.22,583.19 938.42,569.09 938.63,555.28 938.83,542.03 939.03,529.63 939.24,518.31 939.44,508.32 939.65,499.85 939.85,493.08 940.06,488.14 940.26,485.13 940.47,484.12 940.67,485.23 940.87,488.53 941.07,493.93 941.26,501.34 941.47,510.57 941.67,521.42 941.87,533.66 942.07,547.00 942.27,561.14 942.47,575.78 942.67,590.59 942.87,605.23 943.07,619.38 943.27,632.72 943.47,644.95 943.67,655.81 943.87,665.04 944.07,672.44 944.27,677.85 944.47,681.14 944.67,682.25 944.87,681.24 945.08,678.23 945.28,673.29 945.49,666.50 945.70,658.02 945.90,648.02 946.11,636.69 946.32,624.27 946.52,611.01 946.73,597.18 946.94,583.06 947.14,568.95 947.35,555.12 947.56,541.86 947.76,529.44 947.97,518.11 948.18,508.11 948.38,499.62 948.59,492.84 948.80,487.90 949.00,484.89 949.21,483.88 949.41,484.99 949.61,488.29 949.82,493.70 950.02,501.11 950.22,510.36 950.42,521.22 950.63,533.47 950.83,546.83 951.03,560.99 951.23,575.65 951.44,590.48 951.64,605.14 951.84,619.30 952.04,632.66 952.25,644.91 952.45,655.77 952.65,665.02 952.85,672.43 953.06,677.84 953.26,681.14 953.46,682.25 953.66,681.24 953.87,678.24 954.07,673.30 954.28,666.52 954.48,658.05 954.69,648.05 954.89,636.74 955.09,624.33 955.30,611.09 955.50,597.27 955.71,583.17 955.91,569.07 956.12,555.26 956.32,542.01 956.52,529.61 956.73,518.29 956.93,508.29 957.14,499.82 957.34,493.05 957.55,488.11 957.75,485.10 957.95,484.09 958.15,485.20 958.35,488.49 958.55,493.90 958.75,501.31 958.95,510.54 959.15,521.40 959.35,533.63 959.55,546.97 959.75,561.12 959.95,575.77 960.15,590.58 960.35,605.22 960.55,619.37 960.75,632.71 960.95,644.95 961.15,655.80 961.36,665.03 961.55,672.44 961.75,677.85 961.95,681.14 962.15,682.25" fill="none" stroke="#0072BD" stroke-width="3.5" stroke-linejoin="round" stroke-linecap="round"/>
<line x1="85.5" y1="694.6" x2="962.6" y2="694.6" stroke="#FF0000" stroke-width="3.2"/>
<rect x="680.8" y="52.8" width="191.2" height="91.05" fill="#fff" stroke="#151515" stroke-width="2.1"/>
<line x1="691.3" y1="77.5" x2="770.4" y2="77.5" stroke="#0072BD" stroke-width="3.2" stroke-linecap="round"/>
<line x1="691.3" y1="118.7" x2="770.4" y2="118.7" stroke="#FF0000" stroke-width="3.4" stroke-linecap="round"/>
<g opacity="0.999">
<text transform="translate(37.35,32.80) scale(1.2101,1)" font-size="33.28" font-weight="bold" fill="#262626">F</text>
<text transform="translate(59.86,37.50) scale(1.1658,1)" font-size="22.94" font-weight="bold" fill="#262626">2</text>
<text transform="translate(37.29,499.70) scale(1.2018,1)" font-size="33.59" font-weight="bold" fill="#262626">F</text>
<text transform="translate(59.88,503.90) scale(1.1285,1)" font-size="22.42" font-weight="bold" fill="#262626">1</text>
<text transform="translate(38.30,701.80) scale(1.2018,1)" font-size="33.44" font-weight="bold" fill="#262626">F</text>
<text transform="translate(61.04,706.07) scale(1.1277,1)" font-size="22.50" font-weight="bold" fill="#262626">s</text>
<text transform="translate(43.30,734.17) scale(1.2054,1)" font-size="33.19" font-weight="bold" fill="#262626">0</text>
<text transform="translate(73.71,754.36) scale(1.1620,1)" font-size="34.22" font-weight="bold" fill="#262626">0</text>
<text transform="translate(163.72,754.33) scale(1.0514,1)" font-size="36.52" font-weight="bold" fill="#000">t</text>
<text transform="translate(175.21,758.90) scale(1.1494,1)" font-size="22.73" font-weight="bold" fill="#000">1</text>
<text transform="translate(236.92,753.55) scale(1.0931,1)" font-size="35.13" font-weight="bold" fill="#000">t</text>
<text transform="translate(248.64,759.00) scale(1.1868,1)" font-size="22.94" font-weight="bold" fill="#000">2</text>
<text transform="translate(344.31,753.65) scale(1.1058,1)" font-size="35.30" font-weight="bold" fill="#000">t</text>
<text transform="translate(356.14,758.77) scale(1.1281,1)" font-size="22.60" font-weight="bold" fill="#000">3</text>
<text transform="translate(944.72,754.03) scale(1.0415,1)" font-size="36.87" font-weight="bold" fill="#000">t</text>
<text transform="translate(957.41,758.80) scale(0.9992,1)" font-size="22.97" font-weight="bold" fill="#000">4</text>
<text transform="translate(444.59,774.6) scale(1.1476,1)" font-size="35.42" font-weight="bold" fill="#262626">Times [ms]</text>
<text transform="translate(27.9,475.21) rotate(-90) scale(1,1.2249)" font-size="34.77" font-weight="bold" fill="#262626">Magnetic force[N]</text>
<text transform="translate(798.04,93.70) scale(1.2078,1)" font-size="34.81" font-weight="normal" fill="#000">F</text>
<text transform="translate(821.06,98.79) scale(1.3868,1)" font-size="19.59" font-weight="normal" fill="#000">mag</text>
<text transform="translate(809.40,135.60) scale(1.2708,1)" font-size="34.05" font-weight="normal" fill="#000">F</text>
<text transform="translate(832.98,140.31) scale(1.3357,1)" font-size="19.17" font-weight="normal" fill="#000">s</text>
</g>
</svg>
</body></html>
